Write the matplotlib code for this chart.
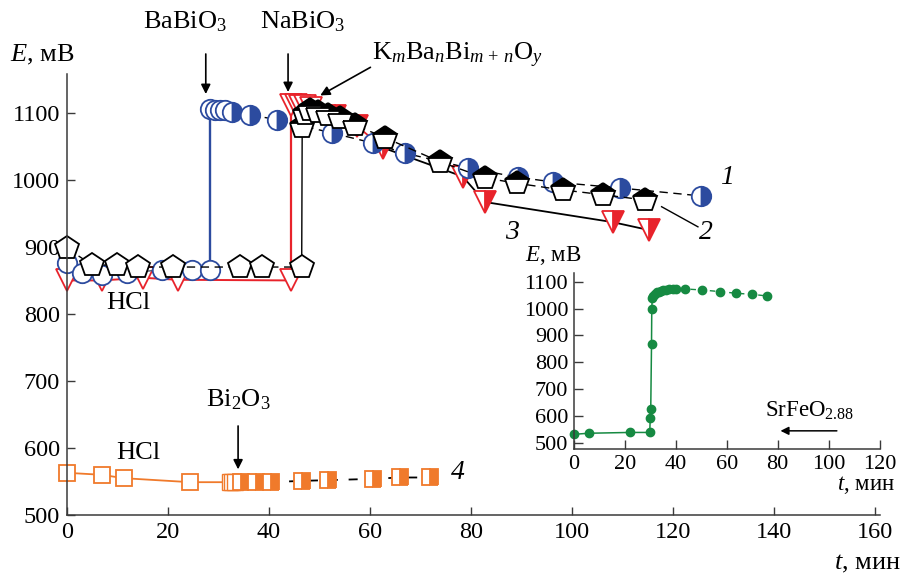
import matplotlib
matplotlib.use("Agg")
import matplotlib.pyplot as plt

plt.rcParams['font.family'] = ['Liberation Serif', 'DejaVu Serif']
plt.rcParams['mathtext.fontset'] = 'custom'
plt.rcParams['mathtext.rm'] = 'Liberation Serif'
plt.rcParams['mathtext.it'] = 'Liberation Serif:italic'
plt.rcParams['mathtext.bf'] = 'Liberation Serif:bold'

# curve 1 - BaBiO3 (blue circles)
t1_hcl = [0, 2.9, 6.9, 11.8, 18.9, 24.8, 28.3]
e1_hcl = [876, 861, 858, 861, 866, 866, 866]
t1_add = [28.3, 29.3, 30.3, 31.3, 32.7, 36.2, 41.6, 52.5, 60.6, 66.9, 79.4, 89.3, 96.2, 109.5, 125.7]
e1_add = [1106, 1105, 1104, 1104, 1102, 1097, 1090, 1070, 1055, 1040, 1018, 1004, 997, 988, 976]
n1_open = 4

# curve 2 - KmBanBim+nOy (pentagons)
t2_hcl = [0, 5.0, 9.9, 14.1, 21.0, 34.3, 38.6, 46.5]
e2_hcl = [898, 873, 873, 870, 870, 870, 870, 870]
t2_add = [46.6, 47.2, 48.2, 49.8, 51.7, 54.0, 57.0, 63.0, 73.9, 82.8, 89.1, 98.2, 106.1, 114.5]
e2_add = [1079, 1098, 1104, 1101, 1097, 1092, 1082, 1063, 1027, 1003, 995, 985, 978, 970]

# curve 3 - NaBiO3 (red triangles)
t3_hcl = [0, 6.9, 15.0, 22.0, 44.4]
e3_hcl = [850, 850, 854, 851, 850]
t3_add = [44.4, 45.3, 46.2, 47.2, 48.3, 53.0, 57.5, 62.6, 78.4, 82.8, 108.1, 115.4]
e3_add = [1112, 1112, 1111, 1110, 1108, 1095, 1080, 1048, 1005, 967, 937, 925]
n3_open = 5
n3_red_line = 8

# curve 4 - Bi2O3 (orange squares)
t4_hcl = [0, 6.9, 11.2, 24.4]
e4_hcl = [563, 560, 555, 549]
t4_add = [32.2, 32.7, 33.2, 34.5, 37.5, 40.4, 46.5, 51.7, 60.6, 65.9, 71.9]
e4_add = [549, 549, 549, 549, 549, 549, 551, 552, 554, 556, 556]
n4_open = 3

# inset - SrFeO2.88
t5 = [0, 5.9, 21.9, 29.8, 30.0, 30.2, 30.5, 30.6, 30.8, 31.2, 31.8, 32.5, 33.3, 34.2,
      35.2, 36.3, 37.5, 39.0, 40.3, 43.7, 50.5, 57.4, 63.6, 69.8, 75.7]
e5 = [531, 535, 538, 538, 591, 627, 868, 998, 1040, 1048, 1055, 1060, 1063, 1066,
      1068, 1070, 1071, 1072, 1073, 1073, 1069, 1063, 1057, 1053, 1047]
n5_rise = 9

blue = '#2c4b9f'
red = '#e8232b'
orange = '#f07a2b'
green = '#168a42'
spine = '#3a3a3a'

fig = plt.figure(figsize=(9.05, 5.75), dpi=100)
ax = fig.add_axes([0.074, 0.1043, 0.898, 0.767])

# --- red triangles
ax.plot(t3_hcl, e3_hcl, '-', color=red, lw=1.4)
ax.plot([t3_hcl[-1], t3_add[0]], [e3_hcl[-1], e3_add[0]], '-', color=red, lw=1.6)
ax.plot(t3_add[:n3_red_line], e3_add[:n3_red_line], '-', color=red, lw=1.3)
ax.plot(t3_add[n3_red_line - 1:], e3_add[n3_red_line - 1:], '-', color='k', lw=1.3)
ax.plot(t3_hcl, e3_hcl, 'v', ms=16, mfc='white', mec=red, mew=1.3, ls='none', clip_on=False)
ax.plot(t3_add[:n3_open], e3_add[:n3_open], 'v', ms=16, mfc='white', mec=red, mew=1.3, ls='none')
ax.plot(t3_add[n3_open:], e3_add[n3_open:], 'v', ms=16, fillstyle='right', mfc=red,
        markerfacecoloralt='white', mec=red, mew=1.3, ls='none')

# --- blue circles
ax.plot(t1_hcl, e1_hcl, '-', color='#555566', lw=1.0)
ax.plot([t1_hcl[-1], t1_add[0]], [e1_hcl[-1], e1_add[0]], '-', color=blue, lw=1.7)
ax.plot(t1_add, e1_add, color='k', lw=1.0, dashes=(6, 4))
ax.plot(t1_hcl, e1_hcl, 'o', ms=14, mfc='white', mec=blue, mew=1.3, ls='none', clip_on=False)
ax.plot(t1_add[:n1_open], e1_add[:n1_open], 'o', ms=14, mfc='white', mec=blue, mew=1.3, ls='none')
ax.plot(t1_add[n1_open:], e1_add[n1_open:], 'o', ms=14, fillstyle='right', mfc=blue,
        markerfacecoloralt='white', mec=blue, mew=1.3, ls='none')

# --- black pentagons
ax.plot(t2_hcl, e2_hcl, color='k', lw=1.0, dashes=(6, 4))
ax.plot([t2_hcl[-1], t2_add[0]], [e2_hcl[-1], e2_add[0]], '-', color='k', lw=1.0)
ax.plot(t2_add, e2_add, color='k', lw=1.0, dashes=(6, 4))
ax.plot(t2_hcl, e2_hcl, 'p', ms=18, mfc='white', mec='k', mew=1.3, ls='none', clip_on=False)
ax.plot(t2_add, e2_add, 'p', ms=18, fillstyle='top', mfc='k',
        markerfacecoloralt='white', mec='k', mew=1.3, ls='none')

# --- orange squares
ax.plot(t4_hcl + t4_add[:1], e4_hcl + e4_add[:1], '-', color=orange, lw=1.3)
ax.plot(t4_add, e4_add, color='k', lw=1.3, dashes=(5, 6))
ax.plot(t4_hcl, e4_hcl, 's', ms=12, mfc='white', mec=orange, mew=1.3, ls='none', clip_on=False)
ax.plot(t4_add[:n4_open], e4_add[:n4_open], 's', ms=12, mfc='white', mec=orange, mew=1.0, ls='none')
ax.plot(t4_add[n4_open:], e4_add[n4_open:], 's', ms=12, fillstyle='right', mfc=orange,
        markerfacecoloralt='white', mec=orange, mew=1.3, ls='none')

ax.set_xlim(0, 161)
ax.set_ylim(500, 1158)
ax.set_xticks(range(0, 161, 20))
ax.set_yticks(range(500, 1101, 100))
for s in ['top', 'right']:
    ax.spines[s].set_visible(False)
for s in ['left', 'bottom']:
    ax.spines[s].set_color(spine)
    ax.spines[s].set_linewidth(1.1)
ax.tick_params(direction='in', length=6, width=1.0, color=spine, labelsize=17.5, pad=5)

fig.text(0.011, 0.905, '$E$, мВ', fontsize=19, va='center', ha='left')
fig.text(0.995, 0.02, '$t$, мин', fontsize=19, va='center', ha='right')

arrow = dict(arrowstyle='-|>', color='k', lw=1.2, mutation_scale=14)
ax.text(23.4, 1236, 'BaBiO$_3$', fontsize=19, ha='center', va='center')
ax.annotate('', xy=(27.5, 1124), xytext=(27.5, 1192), arrowprops=arrow, annotation_clip=False)
ax.text(46.7, 1236, 'NaBiO$_3$', fontsize=19, ha='center', va='center')
ax.annotate('', xy=(43.8, 1127), xytext=(43.8, 1192), arrowprops=arrow, annotation_clip=False)
ax.text(60.4, 1186, 'K$_m$Ba$_n$Bi$_{m\\,+\\,n}$O$_y$', fontsize=19, ha='left', va='center')
ax.annotate('', xy=(49.7, 1124), xytext=(60.6, 1170), arrowprops=arrow, annotation_clip=False)

ax.text(12.1, 816, 'HCl', fontsize=19, ha='center', va='center')
ax.text(14.1, 592, 'HCl', fontsize=19, ha='center', va='center')
ax.text(33.9, 672, 'Bi$_2$O$_3$', fontsize=19, ha='center', va='center')
ax.annotate('', xy=(33.9, 564), xytext=(33.9, 637), arrowprops=arrow)

ax.text(130.7, 1003, '1', fontsize=20, style='italic', ha='center', va='center')
ax.text(126.5, 922, '2', fontsize=20, style='italic', ha='center', va='center')
ax.text(88.1, 922, '3', fontsize=20, style='italic', ha='center', va='center')
ax.text(77.4, 564, '4', fontsize=20, style='italic', ha='center', va='center')
ax.plot([117.8, 125.0], [960, 930], color='k', lw=1.0)

# --- inset
ax2 = fig.add_axes([0.634, 0.219, 0.338, 0.306])
ax2.plot(t5[:n5_rise + 1], e5[:n5_rise + 1], '-', color=green, lw=1.1)
ax2.plot(t5[n5_rise:], e5[n5_rise:], color=green, lw=1.0, dashes=(4, 3))
ax2.plot(t5, e5, 'o', ms=6, color=green, ls='none', clip_on=False)
ax2.set_xlim(0, 120)
ax2.set_ylim(476, 1132)
ax2.set_xticks(range(0, 121, 20))
ax2.set_yticks(range(500, 1101, 100))
for s in ['top', 'right']:
    ax2.spines[s].set_visible(False)
for s in ['left', 'bottom']:
    ax2.spines[s].set_color(spine)
    ax2.spines[s].set_linewidth(1.1)
ax2.tick_params(direction='in', length=6.5, width=1.0, color=spine, labelsize=16, pad=4)
ax2.patch.set_alpha(0)

fig.text(0.611, 0.555, '$E$, мВ', fontsize=16.5, va='center', ha='center')
fig.text(0.989, 0.157, '$t$, мин', fontsize=16.5, va='center', ha='right')
ax2.text(92.5, 618, 'SrFeO$_{2.88}$', fontsize=16.5, ha='center', va='center')
ax2.annotate('', xy=(80, 544), xytext=(104.3, 544),
             arrowprops=dict(arrowstyle='-|>', color='k', lw=1.1, mutation_scale=12))

fig.savefig('out.png', dpi=100)
